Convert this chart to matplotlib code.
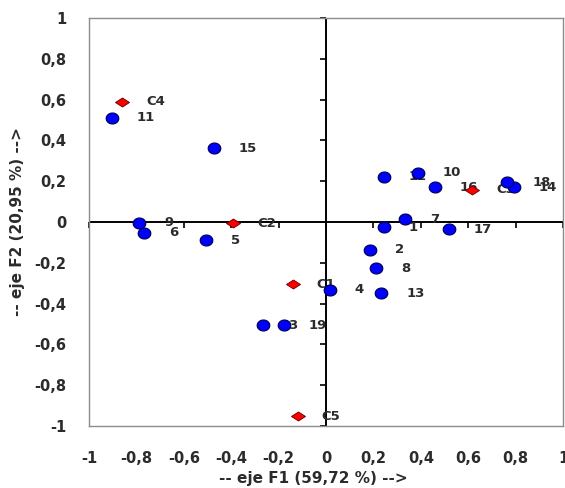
import numpy as np
import matplotlib
matplotlib.use("Agg")
import matplotlib.pyplot as plt
from matplotlib.path import Path

# Observations (blue)
obs_labels = ["1", "2", "3", "4", "5", "6", "7", "8", "9", "10",
              "11", "12", "13", "14", "15", "16", "17", "18", "19"]
obs_f1 = [0.243, 0.184, -0.266, 0.015, -0.506, -0.767, 0.335, 0.212, -0.787, 0.387,
          -0.903, 0.243, 0.233, 0.792, -0.474, 0.458, 0.517, 0.764, -0.179]
obs_f2 = [-0.026, -0.137, -0.505, -0.333, -0.090, -0.052, 0.013, -0.227, -0.003, 0.242,
          0.511, 0.222, -0.350, 0.170, 0.361, 0.170, -0.036, 0.195, -0.505]

# Variables / centroids (red)
var_labels = ["C1", "C2", "C3", "C4", "C5"]
var_f1 = [-0.141, -0.392, 0.616, -0.861, -0.120]
var_f2 = [-0.304, -0.006, 0.157, 0.590, -0.951]

ticks = [-1, -0.8, -0.6, -0.4, -0.2, 0, 0.2, 0.4, 0.6, 0.8, 1]
tick_labels = ["-1", "-0,8", "-0,6", "-0,4", "-0,2", "0", "0,2", "0,4", "0,6", "0,8", "1"]

xlabel = "-- eje F1 (59,72 %) -->"
ylabel = "-- eje F2 (20,95 %) -->"

txt_color = "#2b2b2b"
font = dict(family="DejaVu Sans", weight="bold")

fig = plt.figure(figsize=(5.65, 4.88), dpi=100)
ax = fig.add_axes([89 / 565, 1 - 426 / 488, (563 - 89) / 565, (426 - 18) / 488])
ax.set_xlim(-1, 1)
ax.set_ylim(-1, 1)

for s in ax.spines.values():
    s.set_color("#8c8c8c")
    s.set_linewidth(1.0)

ax.set_xticks(ticks)
ax.set_xticklabels(tick_labels)
ax.set_yticks(ticks)
ax.set_yticklabels(tick_labels)
ax.tick_params(axis="both", length=0, labelsize=10.5, labelcolor=txt_color)
ax.tick_params(axis="x", pad=18)
ax.tick_params(axis="y", pad=16.5)
for lab in ax.get_xticklabels() + ax.get_yticklabels():
    lab.set_fontweight("bold")
    lab.set_family("DejaVu Sans")

# central axes with tick marks
ax.axhline(0, color="black", lw=1.4, zorder=1)
ax.axvline(0, color="black", lw=1.4, zorder=1)
tk = np.array(ticks)
ax.plot(tk, np.zeros_like(tk), ls="none", marker=3, ms=4, mew=1.2, color="black", zorder=1, clip_on=False)
ax.plot(np.zeros_like(tk), tk, ls="none", marker=0, ms=4, mew=1.2, color="black", zorder=1, clip_on=False)

# custom markers
th = np.linspace(0, 2 * np.pi, 60)
ell = Path(np.column_stack([1.15 * np.cos(th), np.sin(th)]), closed=True)
dia = Path([(-1, 0), (0, 0.64), (1, 0), (0, -0.64), (-1, 0)], closed=True)

ax.plot(obs_f1, obs_f2, ls="none", marker=ell, ms=9.0, mfc="#0000ff", mec="#000060",
        mew=0.9, zorder=4, clip_on=False)
ax.plot(var_f1, var_f2, ls="none", marker=dia, ms=10.0, mfc="#ff0000", mec="#7a0000",
        mew=0.7, zorder=5, clip_on=False)

for lab, x, y in zip(obs_labels, obs_f1, obs_f2):
    ax.annotate(lab, (x, y), xytext=(25, 0), textcoords="offset pixels",
                ha="left", va="center", fontsize=9.5, color=txt_color, zorder=2, **font)
for lab, x, y in zip(var_labels, var_f1, var_f2):
    ax.annotate(lab, (x, y), xytext=(24, 0), textcoords="offset pixels",
                ha="left", va="center", fontsize=9.5, color=txt_color, zorder=2, **font)

fig.text(313 / 565, 1 - 478 / 488, xlabel, ha="center", va="center", fontsize=11,
         color=txt_color, **font)
fig.text(18 / 565, 1 - 222 / 488, ylabel, ha="center", va="center", rotation=90,
         fontsize=11, color=txt_color, **font)

fig.savefig("out.png", dpi=100)
